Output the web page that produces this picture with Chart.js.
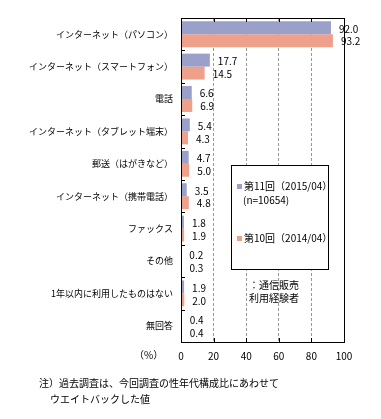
<!DOCTYPE html>
<html><head><meta charset="utf-8">
<script src="https://cdn.jsdelivr.net/npm/chart.js@4"></script>
<style>
html,body{margin:0;padding:0;background:#fff;}
#wrap{position:relative;width:381px;height:419px;font-family:"Noto Sans CJK JP",sans-serif;color:#000;}
canvas{position:absolute;left:0;top:0;}
.t{position:absolute;font-size:10px;line-height:12px;white-space:nowrap;}
#legend{position:absolute;left:231px;top:165px;width:96px;height:103px;border:1px solid #000;background:#fff;}
.sq{display:inline-block;width:5px;height:5px;margin-right:2px;vertical-align:middle;position:relative;top:-1px;}
</style></head>
<body>
<div id="wrap">
<canvas id="c" width="381" height="419"></canvas>
<div id="legend">
  <div class="t" style="left:5px;top:14px;"><span class="sq" style="background:#9aa0c9"></span>第11回（2015/04）</div>
  <div class="t" style="left:11px;top:28px;">(n=10654)</div>
  <div class="t" style="left:5px;top:66px;"><span class="sq" style="background:#eea08b"></span>第10回（2014/04）</div>
</div>
<div class="t" style="left:244px;top:279px;width:60px;text-align:center;">：通信販売</div>
<div class="t" style="left:244px;top:292px;width:60px;text-align:center;">利用経験者</div>
<div class="t" style="left:134px;top:349px;">（%）</div>
<div class="t" style="left:39px;top:377px;">注）過去調査は、今回調査の性年代構成比にあわせて</div>
<div class="t" style="left:50px;top:393px;">ウエイトバックした値</div>
</div>
<script>
const categories = ["インターネット（パソコン）","インターネット（スマートフォン）","電話","インターネット（タブレット端末）","郵送（はがきなど）","インターネット（携帯電話）","ファックス","その他","1年以内に利用したものはない","無回答"];
const seriesNames = ["第11回（2015/04）","第10回（2014/04）"];
const values2015 = [92.0,17.7,6.6,5.4,4.7,3.5,1.8,0.2,1.9,0.4];
const values2014 = [93.2,14.5,6.9,4.3,5.0,4.8,1.9,0.3,2.0,0.4];
const xTicks = [0,20,40,60,80,100];

const FONT = {family:'"Noto Sans CJK JP", sans-serif', size:10};
const YFONT = {family:'"Noto Sans CJK JP", sans-serif', size:9};

const framePlugin = {
  id:'frame',
  afterDatasetsDraw(chart){
    const {ctx, chartArea:a, scales} = chart;
    ctx.save();
    ctx.strokeStyle='#000'; ctx.lineWidth=1; ctx.setLineDash([]);
    ctx.strokeRect(Math.round(a.left)+0.5, Math.round(a.top)+0.5, Math.round(a.right-a.left), Math.round(a.bottom-a.top));
    xTicks.forEach(v=>{
      if(v===0||v===100) return;
      const x = Math.round(scales.x.getPixelForValue(v))+0.5;
      ctx.beginPath();
      ctx.moveTo(x,a.top); ctx.lineTo(x,a.top+4);
      ctx.moveTo(x,a.bottom); ctx.lineTo(x,a.bottom-4);
      ctx.stroke();
    });
    const n = categories.length;
    for(let i=1;i<n;i++){
      const y = Math.round((scales.y.getPixelForValue(i-1)+scales.y.getPixelForValue(i))/2)+0.5;
      ctx.beginPath(); ctx.moveTo(a.left,y); ctx.lineTo(a.left+4,y); ctx.stroke();
    }
    ctx.fillStyle='#000';
    ctx.font = '10px "Noto Sans CJK JP", sans-serif';
    ctx.textAlign='left'; ctx.textBaseline='middle';
    chart.data.datasets.forEach((ds,di)=>{
      const meta = chart.getDatasetMeta(di);
      meta.data.forEach((el,i)=>{
        ctx.fillText(ds.data[i].toFixed(1), el.x+8, el.y+1);
      });
    });
    ctx.restore();
  }
};

new Chart(document.getElementById('c'),{
  type:'bar',
  data:{
    labels:categories,
    datasets:[
      {label:seriesNames[0],data:values2015,backgroundColor:'#9aa0c9',borderWidth:0,categoryPercentage:0.8,barPercentage:1.0},
      {label:seriesNames[1],data:values2014,backgroundColor:'#eea08b',borderWidth:0,categoryPercentage:0.8,barPercentage:1.0}
    ]
  },
  options:{
    indexAxis:'y',
    responsive:false,
    animation:false,
    layout:{padding:{left:0,right:37,top:18,bottom:57}},
    plugins:{legend:{display:false},tooltip:{enabled:false}},
    scales:{
      x:{
        min:0,max:100,
        afterBuildTicks(s){ s.ticks = xTicks.map(v=>({value:v})); },
        afterFit(s){ s.height=20; },
        grid:{drawTicks:false,color:(c)=> (c.tick && (c.tick.value===0||c.tick.value===100))?'rgba(0,0,0,0)':'#999', lineWidth:1},
        border:{display:true,color:'#000',width:1,dash:[3,2]},
        ticks:{color:'#000',font:FONT,padding:8,maxRotation:0}
      },
      y:{
        afterFit(s){ s.width=181; },
        border:{display:true,color:'#000',width:1},
        grid:{display:false,drawTicks:false},
        ticks:{color:'#000',font:YFONT,padding:8,autoSkip:false}
      }
    }
  },
  plugins:[framePlugin]
});
</script>
</body></html>
